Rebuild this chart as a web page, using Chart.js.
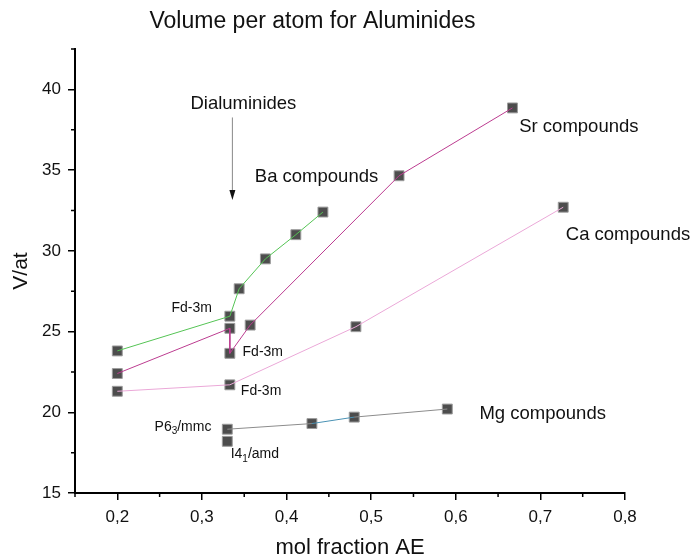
<!DOCTYPE html>
<html>
<head>
<meta charset="utf-8">
<title>Volume per atom for Aluminides</title>
<script src="https://cdn.jsdelivr.net/npm/chart.js@4.4.1/dist/chart.umd.min.js"></script>
<style>
    html, body { margin: 0; padding: 0; background: #fff; }
</style>
</head>
<body>
<canvas id="volumeChart" width="692" height="559"></canvas>
<script>
/*== Volume per atom (V/at) against mol fraction of the alkaline earth ==*/
const baX = [0.2, 0.333, 0.344, 0.375, 0.411, 0.443];
const baY = [23.8, 25.95, 27.65, 29.5, 31.0, 32.4];

const srX = [0.2, 0.333, 0.333, 0.357, 0.533, 0.667];
const srY = [22.4, 25.2, 23.65, 25.4, 34.65, 38.85];

const caX = [0.2, 0.333, 0.482, 0.727];
const caY = [21.3, 21.7, 25.3, 32.7];

// first Mg point is I4_1/amd, second is P6_3/mmc
const mgX = [0.33, 0.33, 0.43, 0.48, 0.59];
const mgY = [18.2, 18.95, 19.3, 19.7, 20.2];

const xTicks = [0.2, 0.3, 0.4, 0.5, 0.6, 0.7, 0.8];
const xMinorTicks = [0.15, 0.25, 0.35, 0.45, 0.55, 0.65, 0.75];
const yTicks = [15, 20, 25, 30, 35, 40];
const yMinorTicks = [17.5, 22.5, 27.5, 32.5, 37.5, 42.5];

const FONT = '"Liberation Sans", Arial, sans-serif';

function points(xs, ys) {
    return xs.map((x, i) => ({x: x, y: ys[i]}));
}

// text labels placed in data units
const labels = [
    {x: 0.349, y: 39.1, parts: [['Dialuminides']], size: 18.5, align: 'center'},
    {x: 0.3625, y: 34.6, parts: [['Ba compounds']], size: 18.5},
    {x: 0.675, y: 37.7, parts: [['Sr compounds']], size: 18.5},
    {x: 0.730, y: 31.0, parts: [['Ca compounds']], size: 18.5},
    {x: 0.628, y: 19.9, parts: [['Mg compounds']], size: 18.5},
    {x: 0.264, y: 26.45, parts: [['Fd-3m']], size: 14},
    {x: 0.348, y: 23.7, parts: [['Fd-3m']], size: 14},
    {x: 0.346, y: 21.3, parts: [['Fd-3m']], size: 14},
    {x: 0.244, y: 19.1, parts: [['P6'], ['3', true], ['/mmc']], size: 14},
    {x: 0.334, y: 17.4, parts: [['I4'], ['1', true], ['/amd']], size: 14}
];

const arrow = {x: 0.336, yFrom: 38.26, yTo: 33.14};

const annotations = {
    id: 'annotations',
    afterDraw(chart) {
        const ctx = chart.ctx;
        const xs = chart.scales.x;
        const ys = chart.scales.y;

        ctx.save();

        /*== minor ticks ==*/
        ctx.strokeStyle = '#000';
        ctx.lineWidth = 1.5;
        ctx.beginPath();
        xMinorTicks.forEach(v => {
            const px = xs.getPixelForValue(v);
            ctx.moveTo(px, xs.top);
            ctx.lineTo(px, xs.top + 4);
        });
        yMinorTicks.forEach(v => {
            const py = ys.getPixelForValue(v);
            ctx.moveTo(ys.right, py);
            ctx.lineTo(ys.right - 4, py);
        });
        ctx.stroke();

        /*== arrow ==*/
        const ax = xs.getPixelForValue(arrow.x);
        const ay0 = ys.getPixelForValue(arrow.yFrom);
        const ay1 = ys.getPixelForValue(arrow.yTo);
        ctx.strokeStyle = '#888';
        ctx.lineWidth = 1;
        ctx.beginPath();
        ctx.moveTo(ax, ay0);
        ctx.lineTo(ax, ay1 - 9);
        ctx.stroke();
        ctx.fillStyle = '#111';
        ctx.beginPath();
        ctx.moveTo(ax - 3, ay1 - 10);
        ctx.lineTo(ax + 3, ay1 - 10);
        ctx.lineTo(ax, ay1);
        ctx.closePath();
        ctx.fill();

        /*== labels ==*/
        ctx.fillStyle = '#111';
        ctx.textBaseline = 'middle';
        ctx.textAlign = 'left';
        labels.forEach(l => {
            const subSize = Math.round(l.size * 0.7);
            let width = 0;
            l.parts.forEach(p => {
                ctx.font = (p[1] ? subSize : l.size) + 'px ' + FONT;
                width += ctx.measureText(p[0]).width;
            });
            let px = xs.getPixelForValue(l.x);
            const py = ys.getPixelForValue(l.y);
            if (l.align === 'center') {
                px -= width / 2;
            }
            l.parts.forEach(p => {
                ctx.font = (p[1] ? subSize : l.size) + 'px ' + FONT;
                ctx.fillText(p[0], px, p[1] ? py + l.size * 0.35 : py);
                px += ctx.measureText(p[0]).width;
            });
        });

        ctx.restore();
    }
};

const marker = {
    type: 'scatter',
    showLine: false,
    pointStyle: 'rect',
    pointRadius: 7,
    pointBackgroundColor: '#4d4d4d',
    pointBorderColor: '#9c9c9c',
    pointBorderWidth: 1,
    order: 1
};

const line = {
    type: 'line',
    showLine: true,
    pointRadius: 0,
    borderWidth: 1,
    fill: false,
    tension: 0,
    order: 0
};

const ctx = document.getElementById('volumeChart').getContext('2d');

const volumeChart = new Chart(ctx, {
    type: 'scatter',
    data: {
        datasets: [
            Object.assign({data: points(baX, baY), borderColor: '#55c455'}, line),
            Object.assign({data: points(srX, srY), borderColor: '#bc3c90'}, line),
            Object.assign({data: points(caX, caY), borderColor: '#eba8d8'}, line),
            // line starts at the P6_3/mmc point
            Object.assign({
                data: points(mgX, mgY).slice(1),
                borderColor: '#8c8c8c',
                segment: {
                    borderColor: c => c.p0DataIndex === 1 ? '#4a92b4' : '#8c8c8c'
                }
            }, line),
            Object.assign({data: points(baX, baY)}, marker),
            Object.assign({data: points(srX, srY)}, marker),
            Object.assign({data: points(caX, caY)}, marker),
            Object.assign({data: points(mgX, mgY)}, marker)
        ]
    },
    options: {
        responsive: false,
        devicePixelRatio: 1,
        animation: false,
        layout: {
            padding: {top: 0, right: 67, bottom: 0, left: 0}
        },
        scales: {
            x: {
                type: 'linear',
                min: 0.15,
                max: 0.8,
                afterFit: scale => { scale.height = 66; },
                afterBuildTicks: scale => {
                    scale.ticks = xTicks.map(v => ({value: v}));
                },
                ticks: {
                    padding: 7,
                    color: '#111',
                    font: {family: FONT, size: 17},
                    callback: value => value.toFixed(1).replace('.', ',')
                },
                grid: {
                    drawOnChartArea: false,
                    drawTicks: true,
                    tickLength: 7,
                    color: '#000',
                    lineWidth: 1.5
                },
                border: {color: '#000', width: 2},
                title: {
                    display: true,
                    text: 'mol fraction AE',
                    color: '#111',
                    font: {family: FONT, size: 22, lineHeight: 1},
                    padding: {top: 0, bottom: 0}
                }
            },
            y: {
                type: 'linear',
                min: 15,
                max: 42.5,
                afterFit: scale => { scale.width = 75; },
                afterBuildTicks: scale => {
                    scale.ticks = yTicks.map(v => ({value: v}));
                },
                ticks: {
                    padding: 7,
                    color: '#111',
                    font: {family: FONT, size: 17}
                },
                grid: {
                    drawOnChartArea: false,
                    drawTicks: true,
                    tickLength: 7,
                    color: '#000',
                    lineWidth: 1.5
                },
                border: {color: '#000', width: 2},
                title: {
                    display: true,
                    text: 'V/at',
                    color: '#111',
                    font: {family: FONT, size: 21, lineHeight: 1},
                    padding: {top: 11, bottom: 0}
                }
            }
        },
        plugins: {
            legend: {display: false},
            tooltip: {enabled: false},
            title: {
                display: true,
                text: 'Volume per atom for Aluminides',
                color: '#111',
                font: {family: FONT, size: 23, weight: 'normal', lineHeight: 1.2},
                padding: {top: 8, bottom: 13.4}
            }
        }
    },
    plugins: [annotations]
});
</script>
</body>
</html>
